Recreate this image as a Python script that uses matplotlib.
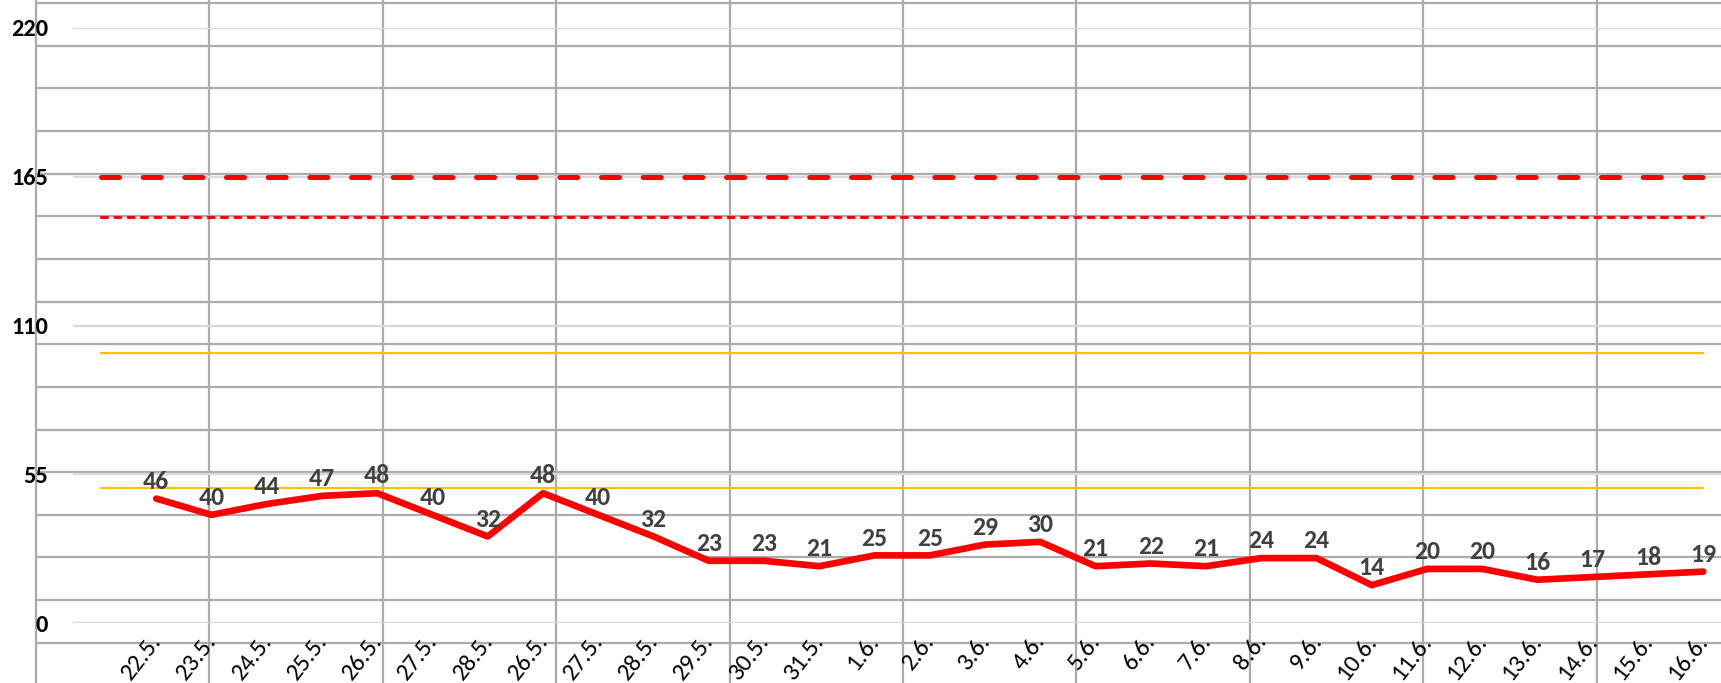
import numpy as np
import matplotlib
matplotlib.use("Agg")
import matplotlib.pyplot as plt
import matplotlib.transforms as mtransforms

# ========== 数据 ==========
categories = ["22.5.", "23.5.", "24.5.", "25.5.", "26.5.", "27.5.", "28.5.",
              "26.5.", "27.5.", "28.5.", "29.5.", "30.5.", "31.5.", "1.6.",
              "2.6.", "3.6.", "4.6.", "5.6.", "6.6.", "7.6.", "8.6.", "9.6.",
              "10.6.", "11.6.", "12.6.", "13.6.", "14.6.", "15.6.", "16.6."]
values = [46, 40, 44, 47, 48, 40, 32, 48, 40, 32, 23, 23, 21, 25, 25, 29, 30,
          21, 22, 21, 24, 24, 14, 20, 20, 16, 17, 18, 19]
y_ticks = [0, 55, 110, 165, 220]

limit_alarm = 165   # 粗红虚线
limit_warn = 150    # 细红虚线
range_high = 100    # 橙色上限
range_low = 50      # 橙色下限

# ========== 画布 ==========
plt.rcParams['font.family'] = ['Carlito', 'DejaVu Sans']
plt.rcParams['lines.scale_dashes'] = False

W, H = 1721, 683
fig = plt.figure(figsize=(W / 100, H / 100), dpi=100)

# 背景：表格单元格网格
bg = fig.add_axes([0, 0, 1, 1], zorder=0)
bg.set_xlim(0, W)
bg.set_ylim(H, 0)
bg.axis('off')
cell_w, cell_h = 173.4, 42.65
for k in range(10):
    bg.axvline(36 + k * cell_w, color='#ABABAB', lw=1.6)
for k in range(17):
    bg.hlines(3 + k * cell_h, 36, W, color='#ABABAB', lw=1.6)

# 图表区域
step = 55.25
left_px, bottom_px, height_px = 73.4, 623, 595
n = len(categories)
ax = fig.add_axes([left_px / W, (H - bottom_px) / H, (n + 1) * step / W, height_px / H],
                  zorder=1)
ax.patch.set_alpha(0)
x = np.arange(1, n + 1)
ax.set_xlim(-0.5, n + 0.5)
ax.set_ylim(0, 220)
for s in ax.spines.values():
    s.set_visible(False)

ax.set_yticks(y_ticks)
ax.grid(axis='y', color='#D9D9D9', lw=1.6)
ax.set_axisbelow(True)
ax.tick_params(axis='y', length=0, pad=18.3, labelsize=17.5, labelcolor='black')
for lab in ax.get_yticklabels():
    lab.set_fontweight('bold')

# 参考线
x_ref = [0, n]
ax.plot(x_ref, [limit_alarm] * 2, color='#FF0000', lw=3.6,
        dashes=(13, 17), dash_capstyle='round', zorder=2)
ax.plot(x_ref, [limit_warn] * 2, color='#FF0000', lw=2.2,
        dashes=(4.3, 5.3), dash_capstyle='round', zorder=2)
ax.plot(x_ref, [range_high] * 2, color='#FFC000', lw=1.6, zorder=2)
ax.plot(x_ref, [range_low] * 2, color='#FFC000', lw=1.6, zorder=2)

# 主曲线
ax.plot(x, values, color='#FF0000', lw=4.8, solid_joinstyle='round',
        solid_capstyle='round', zorder=3)
for xi, v in zip(x, values):
    ax.annotate(str(v), (xi, v), xytext=(0, 7), textcoords='offset points',
                ha='center', va='baseline', fontsize=18.5, fontweight='bold',
                color='#404040', zorder=4)

# 横轴标签
ax.set_xticks(x, labels=categories)
ax.tick_params(axis='x', length=0, pad=10, labelsize=18, labelcolor='black')
offset = mtransforms.ScaledTranslation(0.5 / 72, 0, fig.dpi_scale_trans)
for lab in ax.get_xticklabels():
    lab.set_rotation(52)
    lab.set_ha('right')
    lab.set_va('center')
    lab.set_rotation_mode('anchor')
    lab.set_transform(lab.get_transform() + offset)

fig.savefig("out.png", dpi=100)
